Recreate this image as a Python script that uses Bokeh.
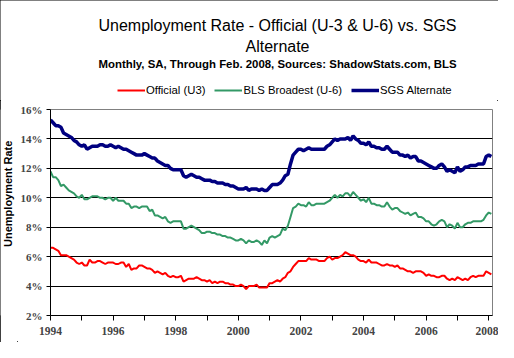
from math import pi
from bokeh.plotting import figure
from bokeh.layouts import column, row
from bokeh.models import (ColumnDataSource, FixedTicker, Label, Legend, LegendItem,
                          Range1d, CustomJSTickFormatter)
from bokeh.embed import file_html
from bokeh.resources import INLINE

u3 = [
    6.6, 6.6, 6.5, 6.4, 6.1, 6.1, 6.1, 6.0, 5.9, 5.8, 5.6, 5.5,   # 1994
    5.6, 5.4, 5.4, 5.8, 5.6, 5.6, 5.7, 5.7, 5.6, 5.5, 5.6, 5.6,   # 1995
    5.6, 5.5, 5.5, 5.6, 5.6, 5.3, 5.5, 5.1, 5.2, 5.2, 5.4, 5.4,   # 1996
    5.3, 5.2, 5.2, 5.1, 4.9, 5.0, 4.9, 4.8, 4.9, 4.7, 4.6, 4.7,   # 1997
    4.6, 4.6, 4.7, 4.3, 4.4, 4.5, 4.5, 4.5, 4.6, 4.5, 4.4, 4.4,   # 1998
    4.3, 4.4, 4.2, 4.3, 4.2, 4.3, 4.3, 4.2, 4.2, 4.1, 4.1, 4.0,   # 1999
    4.0, 4.1, 4.0, 3.8, 4.0, 4.0, 4.0, 4.1, 3.9, 3.9, 3.9, 3.9,   # 2000
    4.2, 4.2, 4.3, 4.4, 4.3, 4.5, 4.6, 4.9, 5.0, 5.3, 5.5, 5.7,   # 2001
    5.7, 5.7, 5.7, 5.9, 5.8, 5.8, 5.8, 5.7, 5.7, 5.7, 5.9, 6.0,   # 2002
    5.8, 5.9, 5.9, 6.0, 6.1, 6.3, 6.2, 6.1, 6.1, 6.0, 5.8, 5.7,   # 2003
    5.7, 5.6, 5.8, 5.6, 5.6, 5.6, 5.5, 5.4, 5.4, 5.5, 5.4, 5.4,   # 2004
    5.3, 5.4, 5.2, 5.2, 5.1, 5.0, 5.0, 4.9, 5.0, 5.0, 5.0, 4.9,   # 2005
    4.7, 4.8, 4.7, 4.7, 4.6, 4.6, 4.7, 4.7, 4.5, 4.4, 4.5, 4.4,   # 2006
    4.6, 4.5, 4.4, 4.5, 4.4, 4.6, 4.7, 4.6, 4.7, 4.7, 4.7, 5.0,   # 2007
    4.9, 4.8,                                                     # 2008
]

u6 = [
    11.8, 11.4, 11.4, 11.2, 10.8, 10.9, 10.7, 10.5, 10.4, 10.3, 10.1, 10.0,
    10.2, 9.9, 9.9, 10.0, 10.1, 10.1, 10.1, 10.0, 10.0, 9.9, 10.0, 10.0,
    9.8, 10.0, 9.8, 9.8, 9.8, 9.6, 9.6, 9.3, 9.4, 9.4, 9.3, 9.4,
    9.4, 9.4, 9.1, 9.2, 8.8, 8.8, 8.7, 8.6, 8.7, 8.4, 8.3, 8.4,
    8.4, 8.4, 8.4, 7.9, 7.9, 8.0, 8.1, 8.0, 7.9, 7.8, 7.6, 7.6,
    7.7, 7.7, 7.6, 7.6, 7.5, 7.5, 7.4, 7.4, 7.3, 7.3, 7.2, 7.1,
    7.1, 7.2, 7.1, 6.9, 7.1, 7.0, 7.0, 7.1, 7.0, 6.8, 7.1, 6.9,
    7.3, 7.4, 7.3, 7.4, 7.5, 7.9, 7.8, 8.1, 8.7, 9.3, 9.4, 9.6,
    9.5, 9.5, 9.4, 9.7, 9.5, 9.5, 9.6, 9.6, 9.6, 9.6, 9.7, 9.8,
    10.0, 10.2, 10.0, 10.2, 10.1, 10.3, 10.3, 10.1, 10.4, 10.2, 10.0, 9.8,
    9.9, 9.7, 10.0, 9.6, 9.6, 9.5, 9.5, 9.4, 9.4, 9.7, 9.4, 9.2,
    9.3, 9.3, 9.1, 9.0, 8.9, 9.0, 8.8, 8.9, 9.0, 8.7, 8.7, 8.6,
    8.4, 8.4, 8.2, 8.1, 8.2, 8.4, 8.5, 8.4, 8.0, 8.2, 8.1, 7.9,
    8.3, 8.0, 8.0, 8.2, 8.3, 8.3, 8.4, 8.4, 8.4, 8.4, 8.5, 8.8,
    9.0, 8.9,
]

sgs = [
    15.3, 15.1, 14.9, 14.9, 14.8, 14.4, 14.3, 14.2, 14.1, 13.9, 13.8, 13.6,
    13.5, 13.6, 13.3, 13.4, 13.5, 13.5, 13.5, 13.6, 13.6, 13.5, 13.5, 13.6,
    13.5, 13.4, 13.5, 13.4, 13.3, 13.3, 13.2, 13.1, 13.0, 12.9, 12.9, 12.9,
    13.0, 12.9, 12.8, 12.7, 12.7, 12.5, 12.4, 12.3, 12.2, 12.2, 12.0, 11.9,
    11.9, 11.9, 11.9, 11.5, 11.4, 11.5, 11.6, 11.5, 11.4, 11.4, 11.3, 11.2,
    11.2, 11.2, 11.1, 11.1, 11.0, 11.0, 11.0, 10.9, 10.9, 10.8, 10.8, 10.7,
    10.6, 10.6, 10.6, 10.7, 10.5, 10.6, 10.6, 10.6, 10.5, 10.6, 10.5, 10.5,
    10.7, 10.9, 10.9, 10.9, 11.0, 11.2, 11.5, 11.6, 12.3, 12.9, 13.1, 13.3,
    13.3, 13.2, 13.3, 13.4, 13.3, 13.3, 13.3, 13.3, 13.3, 13.3, 13.5, 13.6,
    13.8, 14.0, 13.9, 14.0, 14.0, 14.0, 14.1, 13.9, 14.2, 14.0, 13.9, 13.7,
    13.7, 13.6, 13.8, 13.5, 13.5, 13.4, 13.4, 13.3, 13.3, 13.5, 13.3, 13.1,
    13.1, 13.1, 12.9, 12.9, 12.8, 12.9, 12.7, 12.8, 12.8, 12.5, 12.5, 12.4,
    12.3, 12.2, 12.1, 12.0, 12.0, 12.2, 12.3, 12.1, 11.8, 11.9, 11.8, 11.7,
    12.1, 11.8, 11.9, 12.1, 12.1, 12.2, 12.2, 12.2, 12.3, 12.3, 12.3, 12.8,
    12.9, 12.8,
]

n = len(u3)
t = [1994 + i / 12.0 for i in range(n)]

series_names = ["Official (U3)", "BLS Broadest (U-6)", "SGS Alternate"]
series_colors = ["#FF0000", "#339966", "#000080"]
series_widths = [2, 2, 3.5]

y_ticks = [2, 4, 6, 8, 10, 12, 14, 16]
x_major = [1994, 1996, 1998, 2000, 2002, 2004, 2006, 2008]
x_minor = [1995, 1997, 1999, 2001, 2003, 2005, 2007]

title_1 = "Unemployment Rate - Official (U-3 & U-6) vs. SGS"
title_2 = "Alternate"
subtitle = "Monthly, SA, Through Feb. 2008, Sources: ShadowStats.com, BLS"
y_label = "Unemployment Rate"

serif = "Liberation Serif"
sans = "Liberation Sans"

# ---------- header (titles + legend) ----------
HW, HH = 498, 100
head = figure(width=HW, height=HH, output_backend="svg", toolbar_location=None,
              x_range=Range1d(0, HW), y_range=Range1d(0, HH),
              x_axis_location=None, y_axis_location=None,
              min_border=0, min_border_left=0, min_border_right=0,
              min_border_top=0, min_border_bottom=0)
head.grid.visible = False
head.outline_line_color = None
head.background_fill_color = "white"
head.border_fill_color = "white"

def hx(sx):
    return sx - 8

def hy(sy):
    return 108 - sy

head.add_layout(Label(x=hx(285), y=hy(32.5), text=title_1,
                      text_align="center", text_baseline="alphabetic",
                      text_font=sans, text_font_size="16px", text_color="black"))
head.add_layout(Label(x=hx(285), y=hy(53.5), text=title_2,
                      text_align="center", text_baseline="alphabetic",
                      text_font=sans, text_font_size="16px", text_color="black"))
head.add_layout(Label(x=hx(285), y=hy(71), text=subtitle,
                      text_align="center", text_baseline="alphabetic",
                      text_font=sans, text_font_style="bold", text_font_size="11.4px",
                      text_color="black"))

# legend-only renderers (placed outside the visible header range)
dummy = []
for c, w in zip(series_colors, series_widths):
    dummy.append(head.line(x=[-50, -40], y=[-50, -50], line_color=c, line_width=w))

legend = Legend(items=[LegendItem(label=nm, renderers=[r]) for nm, r in zip(series_names, dummy)],
                orientation="horizontal", location=(hx(125), hy(104)),
                glyph_width=28, glyph_height=12, label_height=12, label_standoff=1,
                spacing=9, padding=0, margin=0,
                label_text_font=sans, label_text_font_size="11.3px",
                label_text_color="black",
                background_fill_alpha=0, border_line_alpha=0)
head.add_layout(legend, "center")

# ---------- y-axis label strip ----------
LW, LH = 17, 242
lab = figure(width=LW, height=LH, output_backend="svg", toolbar_location=None,
             x_range=Range1d(0, LW), y_range=Range1d(0, LH),
             x_axis_location=None, y_axis_location=None,
             min_border=0, min_border_left=0, min_border_right=0,
             min_border_top=0, min_border_bottom=0)
lab.grid.visible = False
lab.outline_line_color = None
lab.add_layout(Label(x=15.5 - 8, y=LH - (207 - 108), text=y_label, angle=pi / 2,
                     text_align="center", text_baseline="middle",
                     text_font=sans, text_font_style="bold", text_font_size="11px",
                     text_color="black"))

# ---------- main chart ----------
src = ColumnDataSource(dict(t=t, u3=u3, u6=u6, sgs=sgs))
MW, MH = 481, 242
p = figure(width=MW, height=MH, output_backend="svg", toolbar_location=None,
           x_range=Range1d(1994, 2008.12), y_range=Range1d(2, 16),
           min_border_left=29, min_border_right=6, min_border_top=9,
           min_border_bottom=27)
p.background_fill_color = "white"
p.border_fill_color = "white"
p.outline_line_color = "#808080"
p.outline_line_width = 1

for key, c, w in zip(["u3", "u6", "sgs"], series_colors, series_widths):
    p.line("t", key, source=src, line_color=c, line_width=w)

p.xaxis.ticker = FixedTicker(ticks=x_major, minor_ticks=x_minor)
p.xaxis.formatter = CustomJSTickFormatter(code="return String(Math.round(tick));")
p.xaxis.major_label_text_font = serif
p.xaxis.major_label_text_font_style = "bold"
p.xaxis.major_label_text_font_size = "11.5px"
p.xaxis.major_label_standoff = 6
p.xaxis.major_tick_in = 0
p.xaxis.major_tick_out = 5
p.xaxis.minor_tick_in = 0
p.xaxis.minor_tick_out = 5
p.xaxis.axis_line_color = "black"

p.yaxis.ticker = FixedTicker(ticks=y_ticks, minor_ticks=[])
p.yaxis.formatter = CustomJSTickFormatter(code="return Math.round(tick) + '%';")
p.yaxis.major_label_text_font = serif
p.yaxis.major_label_text_font_style = "bold"
p.yaxis.major_label_text_font_size = "11px"
p.yaxis.major_label_standoff = 4
p.yaxis.major_tick_in = 0
p.yaxis.major_tick_out = 4
p.yaxis.minor_tick_line_color = None
p.yaxis.axis_line_color = "black"

p.xgrid.grid_line_color = None
p.ygrid.ticker = FixedTicker(ticks=[4, 6, 8, 10, 12, 14])
p.ygrid.grid_line_color = "black"
p.ygrid.grid_line_width = 1

layout = column(head, row(lab, p, spacing=0), spacing=0)
layout.styles = {"outline": "1px solid black", "outline-offset": "-1px",
                 "background-color": "white"}

open("out.html", "w").write(file_html(layout, INLINE))
